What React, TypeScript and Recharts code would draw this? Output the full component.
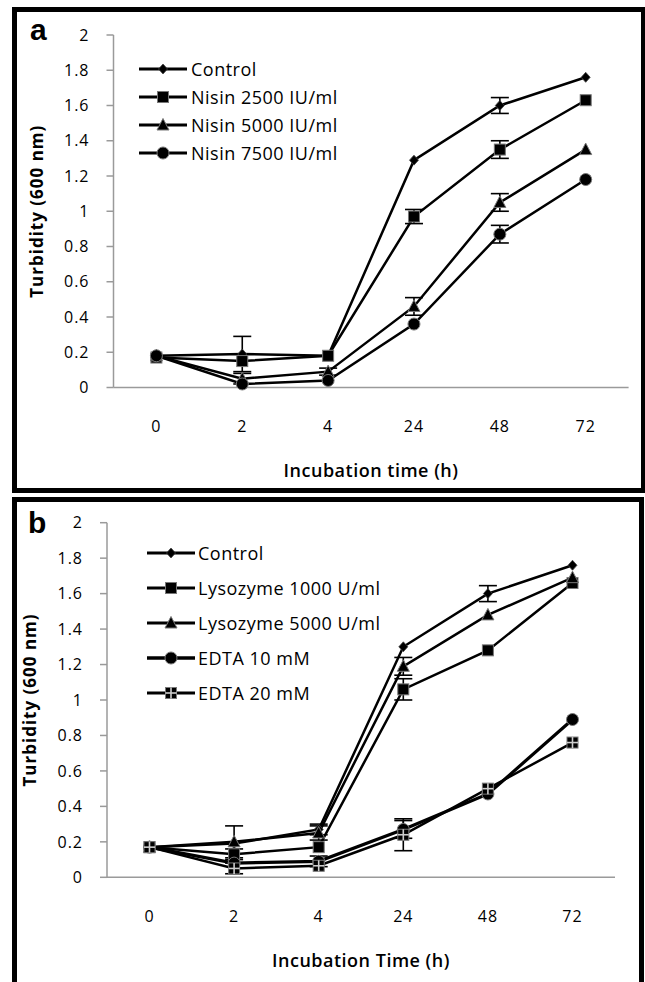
import React from 'react';
import { LineChart, Line, XAxis, YAxis, ErrorBar, Label } from 'recharts';

// ---------- data ----------
const times = ['0', '2', '4', '24', '48', '72'];
const yTicks = [0, 0.2, 0.4, 0.6, 0.8, 1, 1.2, 1.4, 1.6, 1.8, 2];

// Panel a
const aNames = ['Control', 'Nisin 2500 IU/ml', 'Nisin 5000 IU/ml', 'Nisin 7500 IU/ml'];
const aControl = [0.18, 0.19, 0.18, 1.29, 1.6, 1.76];
const aNisin2500 = [0.17, 0.15, 0.18, 0.97, 1.35, 1.63];
const aNisin5000 = [0.18, 0.05, 0.09, 0.46, 1.05, 1.35];
const aNisin7500 = [0.18, 0.02, 0.04, 0.36, 0.87, 1.18];
const aControlErr = [null, 0.1, null, null, 0.045, null];
const aNisin2500Err = [null, null, null, 0.04, 0.05, null];
const aNisin5000Err = [null, 0.03, 0.02, 0.05, 0.05, null];
const aNisin7500Err = [null, null, null, null, 0.05, null];

// Panel b
const bNames = ['Control', 'Lysozyme 1000 U/ml', 'Lysozyme 5000 U/ml', 'EDTA 10 mM', 'EDTA 20 mM'];
const bControl = [0.17, 0.19, 0.27, 1.3, 1.6, 1.76];
const bLys1000 = [0.17, 0.13, 0.17, 1.06, 1.28, 1.66];
const bLys5000 = [0.17, 0.2, 0.25, 1.19, 1.48, 1.69];
const bEdta10 = [0.17, 0.08, 0.09, 0.27, 0.47, 0.89];
const bEdta20 = [0.17, 0.05, 0.065, 0.24, 0.5, 0.76];
const bControlErr = [null, null, 0.03, null, 0.045, null];
const bLys1000Err = [null, 0.03, null, 0.06, null, null];
const bLys5000Err = [null, 0.09, 0.04, 0.05, null, null];
const bEdta10Err = [null, null, 0.03, 0.05, null, null];
const bEdta20Err = [null, 0.03, null, 0.09, null, null];

type Shape = 'diamond' | 'square' | 'triangle' | 'circle' | 'crossSquare';

const aShapes: Shape[] = ['diamond', 'square', 'triangle', 'circle'];
const bShapes: Shape[] = ['diamond', 'square', 'triangle', 'circle', 'crossSquare'];
const aWidths = [2.5, 2.5, 2.5, 2.5];
const bWidths = [2.5, 2.5, 2.5, 3.2, 2.5];

const buildRows = (series: number[][], errs: (number | null)[][]) =>
  times.map((t, i) => {
    const row: any = { time: t };
    series.forEach((s, k) => {
      row['s' + k] = s[i];
      row['e' + k] = errs[k][i];
    });
    return row;
  });

const aRows = buildRows(
  [aControl, aNisin2500, aNisin5000, aNisin7500],
  [aControlErr, aNisin2500Err, aNisin5000Err, aNisin7500Err]
);
const bRows = buildRows(
  [bControl, bLys1000, bLys5000, bEdta10, bEdta20],
  [bControlErr, bLys1000Err, bLys5000Err, bEdta10Err, bEdta20Err]
);

// ---------- markers ----------
const Marker = ({ shape, cx, cy }: { shape: Shape; cx: number; cy: number }) => {
  const st = { fill: '#000', stroke: '#777', strokeWidth: 1 };
  switch (shape) {
    case 'diamond':
      return <polygon points={`${cx},${cy - 5} ${cx + 4.5},${cy} ${cx},${cy + 5} ${cx - 4.5},${cy}`} fill="#000" stroke="#444" strokeWidth={0.8} />;
    case 'square':
      return <rect x={cx - 5.5} y={cy - 5.5} width={11} height={11} {...st} />;
    case 'triangle':
      return <polygon points={`${cx},${cy - 6.5} ${cx + 6},${cy + 5} ${cx - 6},${cy + 5}`} {...st} />;
    case 'circle':
      return <circle cx={cx} cy={cy} r={6} {...st} />;
    case 'crossSquare':
      return (
        <g>
          <rect x={cx - 5.5} y={cy - 5.5} width={11} height={11} {...st} />
          <line x1={cx} y1={cy - 5.5} x2={cx} y2={cy + 5.5} stroke="#ccc" strokeWidth={1.6} />
          <line x1={cx - 5.5} y1={cy} x2={cx + 5.5} y2={cy} stroke="#ccc" strokeWidth={1.6} />
        </g>
      );
  }
  return null;
};

const makeDot = (shape: Shape) => (props: any) => {
  const { cx, cy, index } = props;
  if (cx == null || cy == null) return <g key={index} />;
  return <Marker key={index} shape={shape} cx={cx} cy={cy} />;
};

const FONT = '"Open Sans", "DejaVu Sans", sans-serif';
const AXIS_GRAY = '#9a9a9a';

// ---------- legend ----------
const LegendBox = ({ names, shapes, widths, left, top, step, textLeft }: any) => (
  <div>
    {names.map((n: string, k: number) => (
      <div
        key={n}
        style={{ position: 'absolute', left, top: top + k * step - 12, height: 24, display: 'flex', alignItems: 'center' }}
      >
        <svg width={textLeft - left} height={24} style={{ display: 'block' }}>
          <line x1={0} y1={12} x2={48} y2={12} stroke="#000" strokeWidth={widths[k] + 0.5} />
          <Marker shape={shapes[k]} cx={24} cy={12} />
        </svg>
        <span style={{ fontFamily: FONT, fontSize: 18, letterSpacing: 0.5, color: '#000', whiteSpace: 'nowrap' }}>{n}</span>
      </div>
    ))}
  </div>
);

// ---------- panel ----------
const Panel = ({ rows, shapes, widths, width, height, margin, pad, xTitle, yTitle }: any) => (
  <LineChart width={width} height={height} data={rows} margin={margin}>
    <XAxis
      dataKey="time"
      type="category"
      padding={{ left: pad, right: pad }}
      axisLine={{ stroke: AXIS_GRAY, strokeWidth: 1.5 }}
      tickLine={false}
      tickSize={0}
      tickMargin={33}
      height={30}
      tick={{ fill: '#000', fontSize: 16, fontFamily: FONT, letterSpacing: 1 }}
      interval={0}
    >
      <Label
        value={xTitle}
        position="bottom"
        offset={47}
        style={{ fontFamily: FONT, fontSize: 18, fontWeight: 600, fill: '#000', letterSpacing: 0.5 }}
      />
    </XAxis>
    <YAxis
      type="number"
      domain={[0, 2]}
      ticks={yTicks}
      width={80}
      axisLine={{ stroke: AXIS_GRAY, strokeWidth: 1.5 }}
      tickLine={{ stroke: AXIS_GRAY, strokeWidth: 1.5 }}
      tickSize={7}
      tickMargin={17}
      tick={{ fill: '#000', fontSize: 16, fontFamily: FONT, letterSpacing: 1 }}
      interval={0}
    >
      <Label
        value={yTitle}
        angle={-90}
        position="insideLeft"
        offset={3}
        style={{ textAnchor: 'middle', fontFamily: FONT, fontSize: 17, fontWeight: 700, fill: '#000', letterSpacing: 1 }}
      />
    </YAxis>
    {shapes.map((sh: Shape, k: number) => (
      <Line
        key={k}
        dataKey={'s' + k}
        stroke="#000"
        strokeWidth={widths[k]}
        dot={makeDot(sh)}
        activeDot={false}
        isAnimationActive={false}
        type="linear"
      >
        <ErrorBar dataKey={'e' + k} width={9} stroke="#000" strokeWidth={1.6} direction="y" />
      </Line>
    ))}
  </LineChart>
);

export default function App() {
  return (
    <div style={{ position: 'absolute', left: 0, top: 0, width: 645, height: 982, background: '#fff', overflow: 'hidden' }}>
      {/* frames */}
      <div style={{ position: 'absolute', left: 12, top: 7, width: 634, height: 486, border: '5px solid #000', boxSizing: 'border-box' }} />
      <div style={{ position: 'absolute', left: 12, top: 497, width: 632, height: 490, border: '5px solid #000', boxSizing: 'border-box' }} />

      {/* panel a */}
      <div style={{ position: 'absolute', left: 0, top: 0 }}>
        <Panel
          rows={aRows}
          shapes={aShapes}
          widths={aWidths}
          width={645}
          height={493}
          pad={42.9}
          margin={{ top: 35, right: 16.4, left: 33.5, bottom: 75.5 }}
          xTitle="Incubation time (h)"
          yTitle="Turbidity  (600 nm)"
        />
      </div>
      <div style={{ position: 'absolute', left: 30, top: 12, fontFamily: '"Liberation Sans", Arial, sans-serif', fontWeight: 700, fontSize: 30, lineHeight: '36px' }}>a</div>
      <LegendBox names={aNames} shapes={aShapes} widths={aWidths} left={139} top={68.5} step={28.3} textLeft={191} />

      {/* panel b */}
      <div style={{ position: 'absolute', left: 0, top: 497 }}>
        <Panel
          rows={bRows}
          shapes={bShapes}
          widths={bWidths}
          width={645}
          height={485}
          pad={42.5}
          margin={{ top: 25.7, right: 30, left: 27, bottom: 74.7 }}
          xTitle="Incubation Time (h)"
          yTitle="Turbidity (600 nm)"
        />
      </div>
      <div style={{ position: 'absolute', left: 28, top: 505, fontFamily: '"Liberation Sans", Arial, sans-serif', fontWeight: 700, fontSize: 30, lineHeight: '36px' }}>b</div>
      <LegendBox names={bNames} shapes={bShapes} widths={bWidths} left={147} top={553.3} step={35} textLeft={198} />
    </div>
  );
}
